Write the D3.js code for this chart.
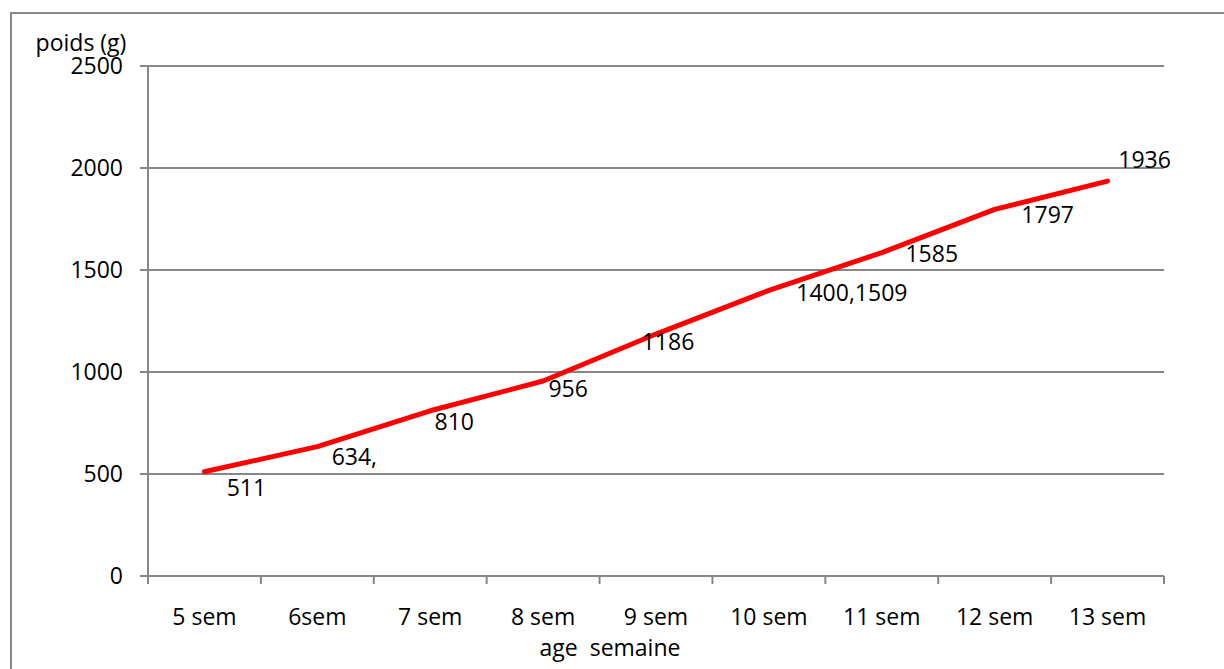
<!DOCTYPE html>
<html>
<head>
<meta charset="utf-8">
<script src="https://cdn.jsdelivr.net/npm/d3@7"></script>
<style>
  html, body { margin: 0; padding: 0; background: #fff; }
  svg { display: block; }
  text { font-family: "Open Sans", "Noto Sans", sans-serif; fill: #000; }
</style>
</head>
<body>
<svg id="chart" width="1224" height="669"></svg>
<script>
// Weekly weight of the animals (grams)
const categories = ["5 sem", "6sem", "7 sem", "8 sem", "9 sem", "10 sem", "11 sem", "12 sem", "13 sem"];
const poids = [511, 634, 810, 956, 1186, 1400, 1585, 1797, 1936];
const pointLabels = ["511", "634,", "810", "956", "1186", "1400,1509", "1585", "1797", "1936"];
const yTicks = [0, 500, 1000, 1500, 2000, 2500];

// Hand-placed label nudges (dx, dy) from each point, in pixels
const labelNudge = [[42, 16], [37, 10], [24, 11], [25, 8], [12, 8], [83, 3], [50, 1], [53, 6], [37, -21]];

const svg = d3.select("#chart");
const grey = "#878787";
const fontSize = 23;

// Outer chart frame (only top and left edges are inside the view)
svg.append("path")
  .attr("d", "M11,669 L11,13 L1224,13")
  .attr("fill", "none").attr("stroke", grey).attr("stroke-width", 2);

const plot = { left: 148, right: 1164, top: 66, bottom: 576 };

const x = d3.scaleBand().domain(categories).range([plot.left, plot.right]).padding(0);
const y = d3.scaleLinear().domain([0, 2500]).range([plot.bottom, plot.top]);

// Horizontal gridlines with their left tick stubs
svg.append("g").selectAll("line").data(yTicks).join("line")
  .attr("x1", plot.left - 8).attr("x2", plot.right)
  .attr("y1", d => y(d)).attr("y2", d => y(d))
  .attr("stroke", grey).attr("stroke-width", 2);

// Y axis line and labels
const yAxis = svg.append("g").attr("transform", `translate(${plot.left},0)`)
  .call(d3.axisLeft(y).tickValues(yTicks).tickSize(0).tickPadding(25).tickFormat(d3.format("d")));
yAxis.select(".domain").attr("stroke", grey).attr("stroke-width", 2)
  .attr("d", `M0,${plot.top}V${plot.bottom + 8}`);
yAxis.selectAll("text").style("font-size", fontSize + "px").style("font-family", null).attr("fill", "#000");

// X axis: ticks sit on category boundaries, labels at category centres
const boundaries = categories.map(c => x(c)).concat([x(categories[categories.length - 1]) + x.bandwidth()]);
svg.append("g").selectAll("line").data(boundaries).join("line")
  .attr("x1", d => d).attr("x2", d => d)
  .attr("y1", plot.bottom).attr("y2", plot.bottom + 8)
  .attr("stroke", grey).attr("stroke-width", 2);

const xAxis = svg.append("g").attr("transform", `translate(0,${plot.bottom})`)
  .call(d3.axisBottom(x).tickSize(0).tickPadding(33));
xAxis.select(".domain").remove();
xAxis.selectAll("text").style("font-size", fontSize + "px").style("font-family", null).attr("fill", "#000");

// Axis titles
svg.append("text").attr("x", 81).attr("y", 51).attr("text-anchor", "middle")
  .style("font-size", fontSize + "px").text("poids (g)");
svg.append("text").attr("x", 610).attr("y", 656).attr("text-anchor", "middle")
  .style("font-size", fontSize + "px").style("white-space", "pre").text("age  semaine");

// Weight curve
const line = d3.line()
  .x((d, i) => x(categories[i]) + x.bandwidth() / 2)
  .y(d => y(d));
svg.append("path").datum(poids)
  .attr("d", line)
  .attr("fill", "none").attr("stroke", "#ff0000").attr("stroke-width", 5)
  .attr("stroke-linecap", "round").attr("stroke-linejoin", "round");

// Point value labels
svg.append("g").selectAll("text").data(poids).join("text")
  .attr("x", (d, i) => x(categories[i]) + x.bandwidth() / 2 + labelNudge[i][0])
  .attr("y", (d, i) => y(d) + labelNudge[i][1])
  .attr("dy", "0.35em")
  .attr("text-anchor", "middle")
  .style("font-size", fontSize + "px")
  .text((d, i) => pointLabels[i]);
</script>
</body>
</html>
